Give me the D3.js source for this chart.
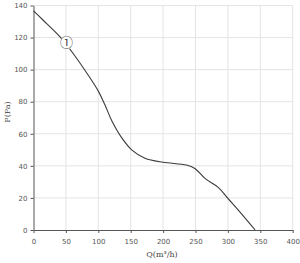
<!DOCTYPE html>
<html>
<head>
<meta charset="utf-8">
<script src="https://cdn.jsdelivr.net/npm/d3@7"></script>
<style>
body { margin: 0; background: #fff; }
</style>
</head>
<body>
<script>
let qValues = [0, 15, 41, 64, 85, 100, 110, 121, 136, 152, 172, 200, 236, 249, 265, 285, 300, 320, 342]
let pValues = [136.6, 130.8, 120.4, 108.5, 96.2, 86.6, 78.2, 68, 57.6, 49.8, 44.7, 42.2, 40.5, 38.4, 32, 26.6, 19.7, 10.5, 0]
let xTicks = [0, 50, 100, 150, 200, 250, 300, 350, 400]
let yTicks = [0, 20, 40, 60, 80, 100, 120, 140]
let curveLabel = '①'

function main(){
    let width = 300, height = 263
    let svg = d3.select('body')
        .append('svg')
        .attr('width', width)
        .attr('height', height)
        .attr('style', 'background-color: white')

    let xScale = d3.scaleLinear().domain([0, 400]).range([33.5, 292.7])
    let yScale = d3.scaleLinear().domain([0, 140]).range([230, 5.5])

    // grid
    svg.append('g')
        .selectAll('line')
        .data(xTicks.slice(1))
        .enter()
        .append('line')
        .attr('x1', d => xScale(d)).attr('x2', d => xScale(d))
        .attr('y1', yScale(0)).attr('y2', yScale(140))
        .attr('stroke', '#e4e4e4').attr('stroke-width', 1)
    svg.append('g')
        .selectAll('line')
        .data(yTicks.slice(1))
        .enter()
        .append('line')
        .attr('x1', xScale(0)).attr('x2', xScale(400))
        .attr('y1', d => yScale(d)).attr('y2', d => yScale(d))
        .attr('stroke', '#e4e4e4').attr('stroke-width', 1)

    let xAxis = svg.append('g')
        .attr('transform', `translate(0,${yScale(0)})`)
        .call(d3.axisBottom(xScale).tickValues(xTicks).tickSize(3).tickSizeOuter(0))
    let yAxis = svg.append('g')
        .attr('transform', `translate(${xScale(0)},0)`)
        .call(d3.axisLeft(yScale).tickValues(yTicks).tickSize(3).tickSizeOuter(0))
    ;[xAxis, yAxis].forEach(a => {
        a.selectAll('path,line').attr('stroke', '#555')
        a.selectAll('text')
            .attr('fill', '#555')
            .attr('font-size', '7px')
            .attr('font-family', 'DejaVu Sans, sans-serif')
    })
    xAxis.selectAll('text').attr('dy', '1.1em')

    let line = d3.line()
        .x(d => xScale(d[0]))
        .y(d => yScale(d[1]))
        .curve(d3.curveCatmullRom.alpha(0.5))
    svg.append('path')
        .datum(d3.zip(qValues, pValues))
        .attr('d', line)
        .attr('fill', 'none')
        .attr('stroke', '#3a3a3a')
        .attr('stroke-width', 1.1)

    // curve label
    let lx = xScale(51), ly = yScale(116.7)
    svg.append('circle')
        .attr('cx', lx).attr('cy', ly).attr('r', 6.5)
        .attr('fill', 'white').attr('stroke', 'none')
    svg.append('text')
        .attr('x', lx).attr('y', ly + 4.5)
        .attr('text-anchor', 'middle')
        .attr('font-size', '13px')
        .attr('fill', '#444')
        .attr('font-family', 'Noto Sans CJK SC, sans-serif')
        .text(curveLabel)

    svg.append('text')
        .attr('transform', `translate(10,112) rotate(-90)`)
        .attr('text-anchor', 'middle')
        .attr('font-size', '8px')
        .attr('fill', '#444')
        .attr('font-family', 'DejaVu Serif, serif')
        .text('P(Pa)')
    svg.append('text')
        .attr('x', 162)
        .attr('y', 257)
        .attr('text-anchor', 'middle')
        .attr('font-size', '8px')
        .attr('fill', '#444')
        .attr('font-family', 'DejaVu Serif, serif')
        .text('Q(m³/h)')
}

main()
</script>
</body>
</html>
